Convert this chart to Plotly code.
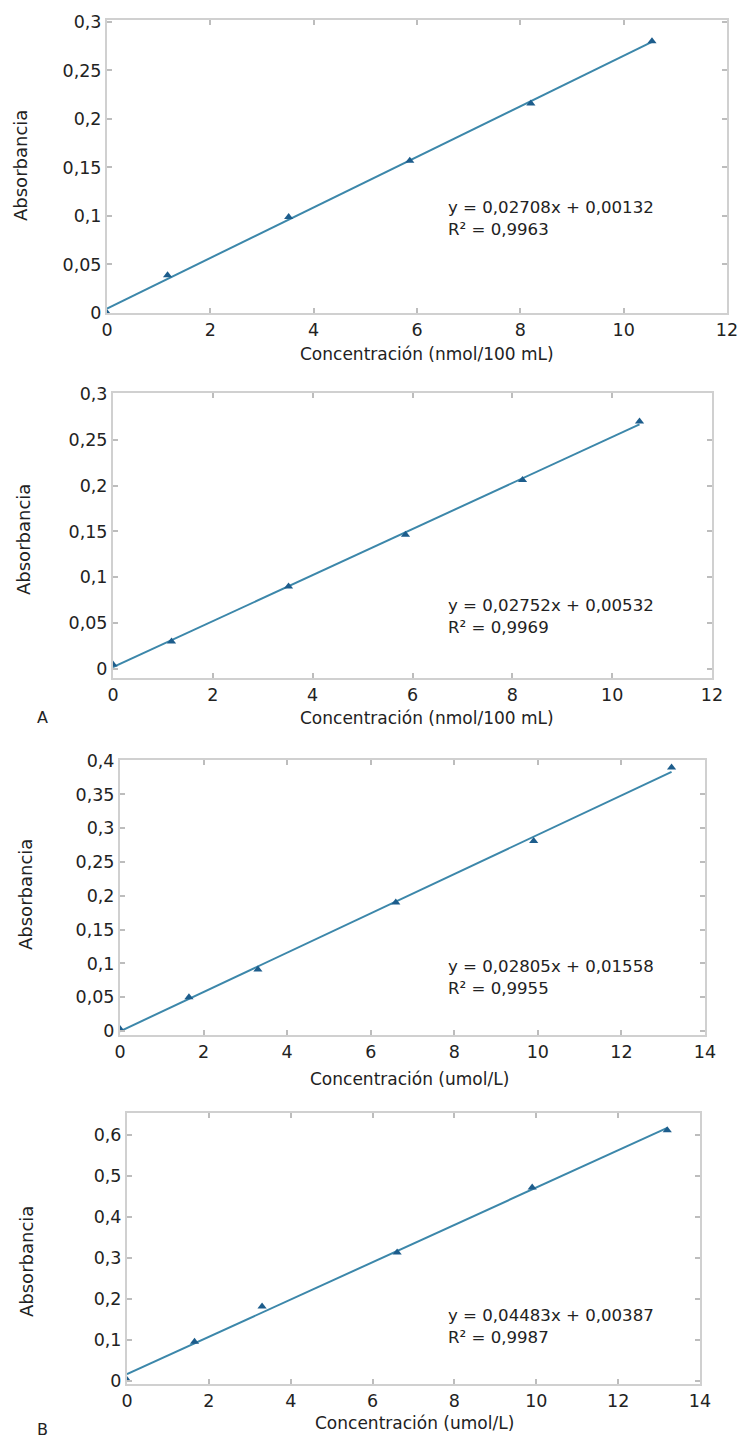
import numpy as np
import plotly.graph_objects as go

W, H = 737, 1441

# ---- data ----
conc_nmol = [0, 1.172, 3.516, 5.86, 8.204, 10.548]
abs_a1 = [0.0, 0.039, 0.099, 0.157, 0.216, 0.280]
abs_a2 = [0.005, 0.030, 0.090, 0.1465, 0.206, 0.270]

conc_umol = [0, 1.65, 3.3, 6.6, 9.9, 13.2]
abs_b1 = [0.003, 0.050, 0.091, 0.190, 0.281, 0.390]
abs_b2 = [0.002, 0.095, 0.181, 0.313, 0.471, 0.611]

eq_texts = [
    "y = 0,02708x + 0,00132<br>R² = 0,9963",
    "y = 0,02752x + 0,00532<br>R² = 0,9969",
    "y = 0,02805x + 0,01558<br>R² = 0,9955",
    "y = 0,04483x + 0,00387<br>R² = 0,9987",
]
x_titles = [
    "Concentración (nmol/100 mL)",
    "Concentración (nmol/100 mL)",
    "Concentración (umol/L)",
    "Concentración (umol/L)",
]
y_title = "Absorbancia"

panels_x = [conc_nmol, conc_nmol, conc_umol, conc_umol]
panels_y = [abs_a1, abs_a2, abs_b1, abs_b2]

# ---- layout geometry (pixels) ----
boxes = [  # left, right, top, bottom
    (107, 727, 20, 313),
    (113, 712, 393, 678),
    (120, 705, 760, 1035),
    (127, 700, 1113, 1384),
]
x_ranges = [[0, 12], [0, 12], [0, 14], [0, 14]]
y_ranges = [[0, 0.302], [-0.0098, 0.301], [-0.006, 0.401], [-0.008, 0.653]]
y_dticks = [0.05, 0.05, 0.05, 0.1]
ann_pos = [(446, 218), (446, 616), (446, 977), (446, 1326)]
xtitle_pos = [(427, 354), (427, 718), (409, 1079), (414, 1423)]
ytitle_pos = [(21, 166), (23, 540), (25, 895), (26, 1262)]

LINE_C = "#3c87aa"
MARK_C = "#1d5d8c"
FRAME_C = "#d0d0d0"
TICK_C = "#bdbdbd"
TXT_C = "#222222"
FONT = "DejaVu Sans"

fig = go.Figure()
layout = dict(
    width=W, height=H,
    margin=dict(l=0, r=0, t=0, b=0),
    paper_bgcolor="white", plot_bgcolor="white",
    showlegend=False,
    separators=",.",
    font=dict(family=FONT, size=16, color=TXT_C),
    annotations=[],
)

for i in range(4):
    n = "" if i == 0 else str(i + 1)
    xs = np.array(panels_x[i], dtype=float)
    ys = np.array(panels_y[i], dtype=float)
    slope, icpt = np.polyfit(xs, ys, 1)
    xl = np.array([xs.min(), xs.max()])
    fig.add_trace(go.Scatter(
        x=xl, y=slope * xl + icpt, mode="lines",
        line=dict(color=LINE_C, width=2),
        xaxis="x" + n, yaxis="y" + n, hoverinfo="skip"))
    fig.add_trace(go.Scatter(
        x=xs, y=ys, mode="markers",
        marker=dict(symbol="triangle-up", size=8, color=MARK_C),
        xaxis="x" + n, yaxis="y" + n))

    l, r, t, b = boxes[i]
    common = dict(
        showline=True, linecolor=FRAME_C, linewidth=2, mirror="ticks",
        ticks="inside", ticklen=5, tickwidth=1.5, tickcolor=TICK_C,
        showgrid=False, zeroline=False, automargin=False,
        ticklabeloverflow="allow",
        tickfont=dict(family=FONT, size=17.5, color=TXT_C),
    )
    layout["xaxis" + n] = dict(
        common, domain=[l / W, r / W], range=x_ranges[i],
        tick0=0, dtick=2, anchor="y" + n,
    )
    layout["yaxis" + n] = dict(
        common, domain=[1 - b / H, 1 - t / H], range=y_ranges[i],
        tick0=0, dtick=y_dticks[i], anchor="x" + n,
    )
    ax, ay = ann_pos[i]
    layout["annotations"].append(dict(
        text=eq_texts[i], xref="paper", yref="paper",
        x=ax / W, y=1 - ay / H, xanchor="left", yanchor="middle",
        align="left", showarrow=False,
        font=dict(family=FONT, size=16.6, color=TXT_C)))
    tx, ty = xtitle_pos[i]
    layout["annotations"].append(dict(
        text=x_titles[i], xref="paper", yref="paper",
        x=tx / W, y=1 - ty / H, xanchor="center", yanchor="middle",
        showarrow=False, font=dict(family=FONT, size=17, color=TXT_C)))
    yx, yy = ytitle_pos[i]
    layout["annotations"].append(dict(
        text=y_title, xref="paper", yref="paper", textangle=-90,
        x=yx / W, y=1 - yy / H, xanchor="center", yanchor="middle",
        showarrow=False, font=dict(family=FONT, size=18, color=TXT_C)))

for lab, (px, py) in [("A", (42, 717)), ("B", (42, 1429))]:
    layout["annotations"].append(dict(
        text=lab, xref="paper", yref="paper", x=px / W, y=1 - py / H,
        xanchor="center", yanchor="middle", showarrow=False,
        font=dict(family=FONT, size=16, color=TXT_C)))

fig.update_layout(**layout)
fig.write_html("out.html")
